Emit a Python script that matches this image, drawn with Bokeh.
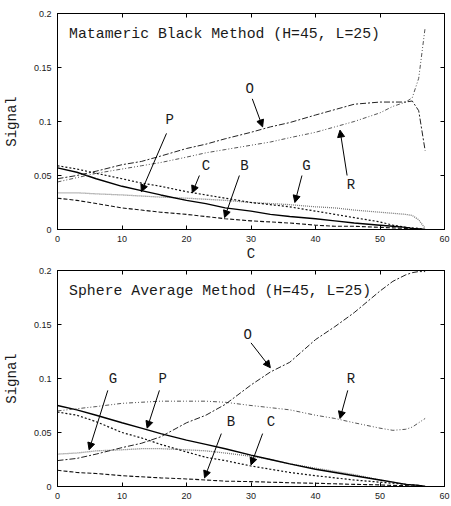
from bokeh.plotting import figure
from bokeh.layouts import column
from bokeh.models import Range1d, LinearAxis, FixedTicker, Arrow, NormalHead, Label
from bokeh.core.properties import value
from bokeh.embed import file_html
from bokeh.resources import INLINE

# ---------------- data ----------------
x_c = [0, 3, 6, 10, 13, 16, 20, 23, 26, 30, 33, 36, 40, 43, 46, 50, 52, 54, 55, 56, 57]

# Matameric Black Method (top)
mb_O = [0.047, 0.050, 0.054, 0.060, 0.063, 0.068, 0.075, 0.079, 0.084, 0.090, 0.095, 0.099, 0.106, 0.111, 0.116, 0.118, 0.118, 0.118, 0.119, 0.110, 0.073]
mb_R = [0.044, 0.048, 0.052, 0.056, 0.059, 0.062, 0.067, 0.071, 0.074, 0.078, 0.081, 0.085, 0.090, 0.095, 0.100, 0.108, 0.114, 0.118, 0.122, 0.140, 0.187]
mb_P = [0.057, 0.053, 0.047, 0.040, 0.036, 0.032, 0.027, 0.024, 0.020, 0.017, 0.014, 0.012, 0.010, 0.008, 0.006, 0.004, 0.003, 0.002, 0.001, 0.0005, 0.0]
mb_C = [0.059, 0.056, 0.052, 0.047, 0.043, 0.040, 0.035, 0.032, 0.029, 0.025, 0.023, 0.021, 0.017, 0.014, 0.011, 0.007, 0.004, 0.002, 0.0015, 0.001, 0.0]
mb_G = [0.034, 0.034, 0.033, 0.032, 0.031, 0.030, 0.029, 0.028, 0.027, 0.025, 0.024, 0.023, 0.021, 0.020, 0.018, 0.016, 0.015, 0.014, 0.013, 0.009, 0.001]
mb_B = [0.029, 0.027, 0.024, 0.020, 0.018, 0.016, 0.014, 0.012, 0.010, 0.008, 0.007, 0.006, 0.004, 0.003, 0.003, 0.002, 0.0015, 0.001, 0.0008, 0.0004, 0.0]

# Sphere Average Method (bottom)
sa_O = [0.024, 0.026, 0.030, 0.036, 0.040, 0.046, 0.059, 0.066, 0.076, 0.094, 0.106, 0.115, 0.136, 0.148, 0.161, 0.181, 0.190, 0.196, 0.198, 0.199, 0.199]
sa_R = [0.070, 0.072, 0.074, 0.077, 0.078, 0.079, 0.079, 0.079, 0.078, 0.075, 0.073, 0.071, 0.066, 0.063, 0.059, 0.054, 0.052, 0.053, 0.055, 0.059, 0.063]
sa_P = [0.075, 0.071, 0.066, 0.059, 0.054, 0.049, 0.043, 0.039, 0.035, 0.029, 0.025, 0.021, 0.016, 0.013, 0.010, 0.006, 0.004, 0.002, 0.0015, 0.001, 0.0]
sa_C = [0.069, 0.066, 0.060, 0.050, 0.045, 0.039, 0.032, 0.027, 0.024, 0.019, 0.016, 0.013, 0.010, 0.008, 0.006, 0.004, 0.003, 0.002, 0.0015, 0.001, 0.0]
sa_G = [0.030, 0.031, 0.033, 0.034, 0.035, 0.035, 0.034, 0.033, 0.031, 0.028, 0.025, 0.021, 0.017, 0.014, 0.011, 0.006, 0.004, 0.002, 0.0015, 0.001, 0.0]
sa_B = [0.015, 0.013, 0.012, 0.010, 0.009, 0.008, 0.007, 0.006, 0.005, 0.0045, 0.004, 0.0035, 0.003, 0.0025, 0.002, 0.0015, 0.001, 0.0008, 0.0005, 0.0003, 0.0]

x_ticks = [0, 10, 20, 30, 40, 50, 60]
y_ticks = [0, 0.05, 0.1, 0.15, 0.2]
y_tick_labels = ["0", "0.05", "0.1", "0.15", "0.2"]

titles = ["Matameric Black Method (H=45, L=25)", "Sphere Average Method (H=45, L=25)"]

# annotation labels: name, label x, label y, arrow start x, y, arrow end x, y
mb_notes = [
    ("O", 29.8, 0.130, 30.2, 0.121, 31.8, 0.095),
    ("P", 17.4, 0.101, 16.9, 0.089, 13.0, 0.035),
    ("C", 23.0, 0.059, 22.0, 0.050, 20.9, 0.034),
    ("B", 29.0, 0.059, 28.2, 0.050, 25.9, 0.011),
    ("G", 38.6, 0.059, 37.9, 0.050, 36.8, 0.025),
    ("R", 45.5, 0.041, 44.9, 0.050, 43.8, 0.092),
]
sa_notes = [
    ("O", 29.5, 0.140, 30.0, 0.133, 33.0, 0.110),
    ("G", 8.6, 0.100, 7.8, 0.089, 4.9, 0.034),
    ("P", 16.3, 0.100, 15.8, 0.089, 13.9, 0.054),
    ("B", 26.9, 0.060, 25.4, 0.049, 22.8, 0.008),
    ("C", 33.1, 0.060, 31.8, 0.049, 30.0, 0.020),
    ("R", 45.5, 0.100, 45.0, 0.089, 43.8, 0.063),
]

MONO = "Liberation Mono"
SANS = "Liberation Sans"
TXT = "#1a1a1a"

styles = {
    "O": dict(line_color="#222222", line_width=1.0, line_dash="6 2 2 2"),
    "R": dict(line_color="#555555", line_width=1.0, line_dash="4 2 1 2 1 2"),
    "P": dict(line_color="black", line_width=1.4, line_dash="solid"),
    "C": dict(line_color="#111111", line_width=1.2, line_dash="2 2"),
    "G": dict(line_color="#777777", line_width=1.3, line_dash="1 1"),
    "B": dict(line_color="#111111", line_width=1.1, line_dash="4 2"),
}


def make_plot(series, notes, title, top_border, bottom_border, xlabel_axis):
    p = figure(frame_width=387, frame_height=216, output_backend="svg", toolbar_location=None,
               x_range=Range1d(0, 60), y_range=Range1d(0, 0.2),
               min_border_left=50, min_border_right=6,
               min_border_top=top_border, min_border_bottom=bottom_border)
    p.background_fill_color = "white"
    p.border_fill_color = "white"
    p.outline_line_color = "black"
    p.outline_line_width = 1
    p.xgrid.visible = False
    p.ygrid.visible = False

    for ax in p.xaxis:
        ax.ticker = FixedTicker(ticks=x_ticks)
    for ax in p.yaxis:
        ax.ticker = FixedTicker(ticks=y_ticks)
        ax.major_label_overrides = {t: s for t, s in zip(y_ticks, y_tick_labels)}
        ax.axis_label = "Signal"
        ax.axis_label_standoff = 11
        ax.major_label_standoff = 6
    for ax in list(p.xaxis) + list(p.yaxis):
        ax.major_tick_in = 4
        ax.major_tick_out = 0
        ax.minor_tick_line_color = None
        ax.axis_line_color = "black"
        ax.major_tick_line_color = "black"
        ax.major_label_text_font = SANS
        ax.major_label_text_font_size = "9px"
        ax.major_label_text_color = TXT
        ax.axis_label_text_font = MONO
        ax.axis_label_text_font_size = "14px"
        ax.axis_label_text_font_style = "normal"
        ax.axis_label_text_color = TXT
    for ax in p.xaxis:
        ax.major_label_standoff = 6
        if xlabel_axis:
            ax.axis_label = "C"
            ax.axis_label_standoff = 1

    # mirror ticks (no labels)
    top = LinearAxis(ticker=FixedTicker(ticks=x_ticks), major_tick_in=4, major_tick_out=0,
                     minor_tick_line_color=None, major_label_text_font_size="0px",
                     major_label_text_color=None, major_label_standoff=0, axis_label_standoff=0)
    right = LinearAxis(ticker=FixedTicker(ticks=y_ticks), major_tick_in=4, major_tick_out=0,
                       minor_tick_line_color=None, major_label_text_font_size="0px",
                       major_label_text_color=None, major_label_standoff=0, axis_label_standoff=0)
    p.add_layout(top, "above")
    p.add_layout(right, "right")

    for name in ["B", "G", "C", "P", "R", "O"]:
        p.line(x_c, series[name], **styles[name])

    p.text(x=[1.8], y=[0.181], text=[title], text_font=value(MONO), text_font_size="14.8px",
           text_color=TXT, text_align="left", text_baseline="middle")

    names = [n[0] for n in notes]
    p.text(x=[n[1] for n in notes], y=[n[2] for n in notes], text=names,
           text_font=value(MONO), text_font_size="14px", text_color=TXT,
           text_align="center", text_baseline="middle")
    for n in notes:
        p.add_layout(Arrow(end=NormalHead(size=7, fill_color="black", line_color="black", line_width=1),
                           x_start=n[3], y_start=n[4], x_end=n[5], y_end=n[6],
                           line_color="black", line_width=1))

    if not xlabel_axis:
        p.add_layout(Label(x=30, y=-0.0167, text="C", text_font=MONO, text_font_size="14px",
                           text_color=TXT, text_align="center", text_baseline="middle"))
    return p


p1 = make_plot({"O": mb_O, "R": mb_R, "P": mb_P, "C": mb_C, "G": mb_G, "B": mb_B},
               mb_notes, titles[0], 13, 22, True)
p2 = make_plot({"O": sa_O, "R": sa_R, "P": sa_P, "C": sa_C, "G": sa_G, "B": sa_B},
               sa_notes, titles[1], 6, 19, False)

layout = column(p1, p2, spacing=0)
open("out.html", "w").write(file_html(layout, INLINE))
